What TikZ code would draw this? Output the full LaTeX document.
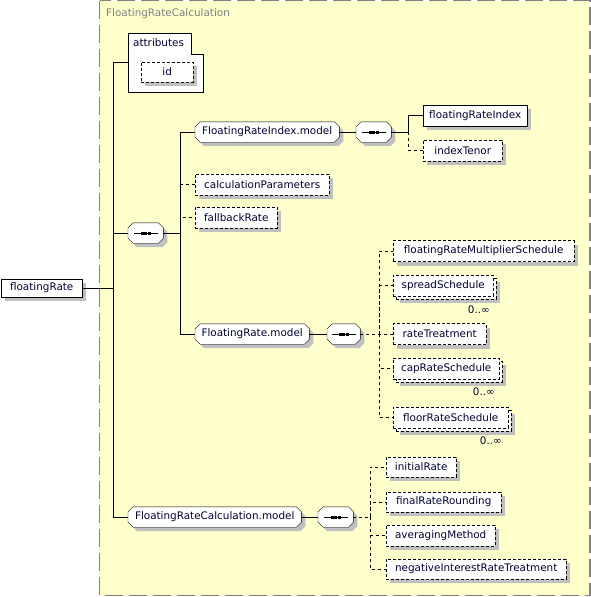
\documentclass[tikz,border=0pt]{standalone}
\usepackage{fontspec}
\setmainfont{DejaVu Sans}
\usetikzlibrary{shadows}
\pgfdeclarelayer{back}
\pgfdeclarelayer{shapes}
\pgfsetlayers{back,shapes,main}
\definecolor{bgyellow}{HTML}{FFFFCC}
\definecolor{shgray}{HTML}{C0C0C0}
\definecolor{txt}{HTML}{000033}
\definecolor{framegray}{HTML}{808080}
\tikzset{
  base/.style={draw=black, fill=white, rectangle, inner sep=0pt, minimum height=21pt, anchor=west},
  sh/.style={drop shadow={opacity=1, fill=shgray, shadow xshift=4pt, shadow yshift=-4pt}},
  req/.style={base, sh},
  opt/.style={base, sh, dash pattern=on 3pt off 2pt},
  multi/.style={base, dash pattern=on 3pt off 2pt,
     drop shadow={opacity=1, fill=shgray, shadow xshift=7pt, shadow yshift=-7pt},
     general shadow={fill=white, draw=black, dash pattern=on 3pt off 2pt, shadow xshift=3pt, shadow yshift=-3pt}},
  model/.style={rectangle, draw=none, fill=none, inner sep=0pt, minimum height=20pt, anchor=west},
  seqbox/.style={model, minimum width=35pt},
  dcon/.style={dash pattern=on 3pt off 3pt},
  mult/.style={anchor=east, inner sep=0pt}
}
\newcommand{\octpath}[3]{%
  ([xshift=#2+5pt, yshift=#3]#1.north west) -- ([xshift=#2-5pt, yshift=#3]#1.north east)
  -- ([xshift=#2, yshift=#3-5pt]#1.north east) -- ([xshift=#2, yshift=#3+5pt]#1.south east)
  -- ([xshift=#2-5pt, yshift=#3]#1.south east) -- ([xshift=#2+5pt, yshift=#3]#1.south west)
  -- ([xshift=#2, yshift=#3+5pt]#1.south west) -- ([xshift=#2, yshift=#3-5pt]#1.north west) -- cycle}
\newcommand{\octo}[1]{%
  \begin{pgfonlayer}{shapes}
  \fill[shgray] \octpath{#1}{4pt}{-4pt};
  \filldraw[fill=white, draw=black] \octpath{#1}{0pt}{0pt};
  \end{pgfonlayer}}
\newcommand{\seqmark}[1]{%
  \draw[line width=1pt] ([xshift=-12pt]#1.center) -- ([xshift=12pt]#1.center);
  \fill ([xshift=-5pt,yshift=-1.5pt]#1.center) rectangle ([xshift=-2pt,yshift=1.5pt]#1.center);
  \fill ([xshift=-1.5pt,yshift=-1.5pt]#1.center) rectangle ([xshift=1.5pt,yshift=1.5pt]#1.center);
  \fill ([xshift=2pt,yshift=-1.5pt]#1.center) rectangle ([xshift=5pt,yshift=1.5pt]#1.center);
}
\begin{document}
\begin{tikzpicture}[x=1pt, y=-1pt, line width=1pt, text=txt,
  font=\fontsize{10.4}{12}\selectfont]
\useasboundingbox (0,0) rectangle (591,597);
% container
\begin{pgfonlayer}{back}
\fill[bgyellow] (99.5,0.5) rectangle (590,595.5);
\draw[framegray, line width=1.3pt, dash pattern=on 18pt off 6pt] (99.5,0.5) rectangle (590,595.5);
\end{pgfonlayer}
\node[anchor=west, text=framegray, inner sep=0pt] (title) at (106,14) {FloatingRateCalculation};

% attributes
\draw[fill=white] (128,33) -- (191,33) -- (191,54) -- (203,54) -- (203,92) -- (128,92) -- cycle;
\node[anchor=west, inner sep=0pt] (attr) at (133,43) {attributes};
\coordinate (attrw) at (128,62);
\node[opt, minimum width=52pt, minimum height=20pt] (id) at (141,72) {id};

% root
\node[req, minimum width=81pt, minimum height=18pt] (root) at (1,288) {floatingRate};

% first level
\node[seqbox] (s0) at (128,233) {};
\node[model, minimum width=144pt] (frim) at (195,132) {FloatingRateIndex.model};
\node[opt, minimum width=134pt] (calc) at (195,184.5) {calculationParameters};
\node[opt, minimum width=82pt] (fb) at (195,217.5) {fallbackRate};
\node[model, minimum width=114pt] (frm) at (195,334) {FloatingRate.model};
\node[model, minimum width=173pt] (frcm) at (128,517) {FloatingRateCalculation.model};

% FloatingRateIndex.model
\node[seqbox] (s1) at (356,132) {};
\node[req, minimum width=104pt] (fri) at (423,115.5) {floatingRateIndex};
\node[opt, minimum width=79pt] (itn) at (423,150.5) {indexTenor};

% FloatingRate.model
\node[seqbox, minimum width=33pt] (s2) at (327,334) {};
\node[opt, minimum width=181pt] (frms) at (393,251) {floatingRateMultiplierSchedule};
\node[multi, minimum width=100pt] (spread) at (393,285.5) {spreadSchedule};
\node[opt, minimum width=93pt] (rt) at (393,334) {rateTreatment};
\node[multi, minimum width=106pt] (cap) at (393,368.5) {capRateSchedule};
\node[multi, minimum width=115pt] (floor) at (393,417.5) {floorRateSchedule};
\node[mult] (m1) at (490,310) {0..∞};
\node[mult] (m2) at (495,392) {0..∞};
\node[mult] (m3) at (502,441) {0..∞};

% FloatingRateCalculation.model
\node[seqbox] (s3) at (318,517) {};
\node[opt, minimum width=70pt, minimum height=20pt] (ir) at (386,467) {initialRate};
\node[opt, minimum width=115pt, minimum height=20pt] (frr) at (386,502) {finalRateRounding};
\node[opt, minimum width=109pt] (am) at (386,535.5) {averagingMethod};
\node[opt, minimum width=180pt, minimum height=20pt] (nirt) at (386,569) {negativeInterestRateTreatment};

\octo{s0}\octo{s1}\octo{s2}\octo{s3}
\octo{frim}\octo{frm}\octo{frcm}
\seqmark{s0}\seqmark{s1}\seqmark{s2}\seqmark{s3}

% connectors
\draw (root.east) -- ++(31,0) |- (attrw);
\draw (root.east) -- ++(31,0) |- (s0.west);
\draw (root.east) -- ++(31,0) |- (frcm.west);

\draw (s0.east) -- ++(17,0) |- (frim.west);
\draw (s0.east) -- ++(17,0) |- (frm.west);
\draw[dcon] (s0.east) ++(17,0) |- (calc.west);
\draw[dcon] (s0.east) ++(17,0) |- (fb.west);

\draw (frim.east) -- (s1.west);
\draw (frm.east) -- (s2.west);
\draw (frcm.east) -- (s3.west);

\draw (s1.east) -- ++(17,0) |- (fri.west);
\draw[dcon] (s1.east) ++(17,0) |- (itn.west);

\draw[dcon] (s2.east) -- ++(19,0) |- (frms.west);
\draw[dcon] (s2.east) ++(19,0) |- (spread.west);
\draw[dcon] (s2.east) -- (rt.west);
\draw[dcon] (s2.east) ++(19,0) |- (cap.west);
\draw[dcon] (s2.east) ++(19,0) |- (floor.west);

\draw[dcon] (s3.east) -- ++(17,0) |- (ir.west);
\draw[dcon] (s3.east) ++(17,0) |- (frr.west);
\draw[dcon] (s3.east) ++(17,0) |- (am.west);
\draw[dcon] (s3.east) ++(17,0) |- (nirt.west);
\end{tikzpicture}
\end{document}
